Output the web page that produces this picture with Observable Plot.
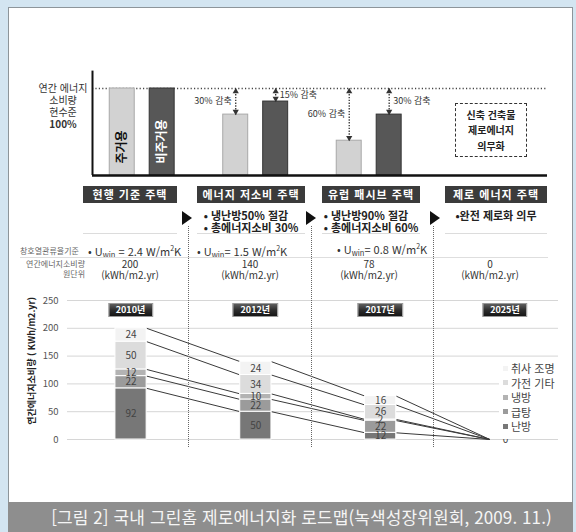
<!DOCTYPE html>
<html lang="ko"><head><meta charset="utf-8">
<script src="https://cdn.jsdelivr.net/npm/d3@7"></script>
<script src="https://cdn.jsdelivr.net/npm/@observablehq/plot@0.6"></script>
<style>
html,body{margin:0;padding:0;background:#d3e5f1;}
#root{position:relative;width:576px;height:532px;background:#d3e5f1;overflow:hidden;font-family:"Noto Sans CJK KR","Noto Sans",sans-serif;color:#333;}
#panel{position:absolute;left:8px;top:7px;width:565px;height:495px;background:#fff;border:1px solid #8d959a;border-bottom:none;box-sizing:border-box;}
#caption{position:absolute;left:8px;top:502px;width:565px;height:30px;background:#8e8e8e;color:#f5f5f5;font-size:17px;line-height:30px;text-align:center;padding-left:22px;box-sizing:border-box;letter-spacing:0.1px;white-space:nowrap;}
.a{position:absolute;white-space:nowrap;}
.hdr{background:#3b3b3b;color:#fff;font-weight:bold;font-size:11px;height:17px;line-height:17px;text-align:center;letter-spacing:1px;}
.bul{position:absolute;left:0;right:0;text-align:center;font-weight:bold;font-size:11px;line-height:12px;color:#222;}
.bul span{display:inline-block;text-align:left;}
.uw{font-size:11px;line-height:16px;color:#333;}
.uw sub{font-size:7.5px;vertical-align:-2px;line-height:0;}
.uw sup{font-size:7px;vertical-align:5px;line-height:0;}
.small{font-size:8px;line-height:10px;color:#666;}
.val{font-size:10px;line-height:11px;color:#333;text-align:center;transform:translateX(-50%);}
.tri{width:0;height:0;border-left:10px solid #111;border-top:7px solid transparent;border-bottom:7px solid transparent;}
.dot{width:0;border-left:1px dotted #666;}
.tag{background:linear-gradient(#5e5e5e,#2e2e2e 50%,#161616);border:1px solid #9a9a9a;color:#fff;font-weight:bold;font-size:9px;line-height:12px;padding:0 7px;transform:translate(-50%,-50%);}
#legend{background:#fff;padding:0 4px;}
#legend, #legend *{font-family:"Noto Sans CJK KR","Noto Sans",sans-serif !important;font-size:11px !important;color:#444;}
#legend [class$="-swatch"]{line-height:14.5px;margin:0 !important;padding:0 !important;}
#legend [class$="-swatch"] svg{margin-right:3px;}
</style></head>
<body>
<div id="root">
  <div id="panel"></div>
  <div id="caption">[그림 2] 국내 그린홈 제로에너지화 로드맵(녹색성장위원회, 2009. 11.)</div>
</div>
<script>
// ---------------- data ----------------
const years = ["2010년", "2012년", "2017년", "2025년"];
const uses = ["난방", "급탕", "냉방", "가전 기타", "취사 조명"];
const heating = [92, 50, 12, 0];
const hotWater = [22, 22, 22, 0];
const cooling = [12, 10, 2, 0];
const appliances = [50, 34, 26, 0];
const cookingLighting = [24, 24, 16, 0];
const seriesColors = ["#777777", "#9b9b9b", "#b3b3b3", "#dcdcdc", "#f3f3f3"];
const yTicks = [0, 50, 100, 150, 200, 250];
const yTitle = "연간에너지소비량 ( KWh/m2.yr)";

// concept diagram (percent of current level)
const residentialLevel = [100, 70, 40, null];
const nonResidentialLevel = [100, 85, 70, null];
const residentialCut = ["", "30% 감축", "60% 감축", ""];
const nonResidentialCut = ["", "15% 감축", "30% 감축", ""];
const residentialName = "주거용";
const nonResidentialName = "비주거용";
const levelLabel = ["연간 에너지", "소비량", "현수준", "100%"];
const noteLines = ["신축 건축물", "제로에너지", "의무화"];

// table rows
const houseTypes = ["현행 기준 주택", "에너지 저소비 주택", "유럽 패시브 주택", "제로 에너지 주택"];
const goals = [[], ["냉난방50% 절감", "총에너지소비 30%"], ["냉난방90% 절감", "총에너지소비 60%"], ["완전 제로화 의무"]];
const uwin = [2.4, 1.5, 0.8, null];
const unitConsumption = [200, 140, 78, 0];
const unitText = "(kWh/m2.yr)";
const rowLabel1 = "창호열관류율기준";
const rowLabel2 = ["연간에너지소비량", "원단위"];

const FONT = '"Noto Sans CJK KR","Noto Sans",sans-serif';
const SVGNS = "http://www.w3.org/2000/svg";
const root = document.getElementById("root");
function el(cls, css, html) {
  const d = document.createElement("div");
  d.className = cls; d.style.cssText = css; if (html != null) d.innerHTML = html;
  root.appendChild(d); return d;
}
function boxify(svg, label, {padX = 6, padY = 1.5, fill = "#222", stroke = "#8a8a8a"} = {}) {
  svg.querySelectorAll(`g[aria-label="${label}"] text`).forEach(t => {
    const b = t.getBBox();
    const r = document.createElementNS(SVGNS, "rect");
    r.setAttribute("x", b.x - padX); r.setAttribute("y", b.y - padY);
    r.setAttribute("width", b.width + 2 * padX); r.setAttribute("height", b.height + 2 * padY);
    r.setAttribute("fill", fill); r.setAttribute("stroke", stroke); r.setAttribute("stroke-width", 1);
    if (t.getAttribute("transform")) r.setAttribute("transform", t.getAttribute("transform"));
    t.parentNode.insertBefore(r, t);
  });
}

// ---------------- top concept chart ----------------
const OFF = 0.176, HW = 0.11;
const concept = [];
years.forEach((yr, i) => {
  if (residentialLevel[i] != null) concept.push({i, kind: residentialName, level: residentialLevel[i], cut: residentialCut[i], cx: i - OFF});
  if (nonResidentialLevel[i] != null) concept.push({i, kind: nonResidentialName, level: nonResidentialLevel[i], cut: nonResidentialCut[i], cx: i + OFF});
});
const resBars = concept.filter(d => d.kind === residentialName);
const nonBars = concept.filter(d => d.kind === nonResidentialName);
const topX = [-0.438, 3.571];
const topPlot = Plot.plot({
  width: 576, height: 125,
  marginLeft: 92, marginRight: 29, marginTop: 33, marginBottom: 5,
  x: {domain: topX, axis: null},
  y: {domain: [0, 100], axis: null},
  style: {fontFamily: FONT, background: "transparent", overflow: "visible"},
  marks: [
    Plot.ruleY([100], {stroke: "#444", strokeWidth: 1.6, strokeDasharray: "1.2,2.2"}),
    Plot.rect(resBars, {x1: d => d.cx - HW, x2: d => d.cx + HW, y1: 0, y2: "level", fill: "#d2d2d2", stroke: "#a8a8a8", strokeWidth: 1}),
    Plot.rect(nonBars, {x1: d => d.cx - HW, x2: d => d.cx + HW, y1: 0, y2: "level", fill: "#575757", stroke: "#333", strokeWidth: 1}),
    Plot.link(concept.filter(d => d.cut), {x1: "cx", x2: "cx", y1: 100, y2: d => d.level, stroke: "#333", strokeWidth: 1.3, strokeDasharray: "1.4,1.4"}),
    Plot.dot(concept.filter(d => d.cut), {x: "cx", y: 100, symbol: "triangle", r: 2.3, fill: "#333", dy: 3}),
    Plot.dot(concept.filter(d => d.cut), {x: "cx", y: "level", symbol: "triangle", rotate: 180, r: 2.3, fill: "#333", dy: -3}),
    Plot.text(resBars.filter(d => d.cut), {x: "cx", y: d => (100 + d.level) / 2, text: "cut", textAnchor: "end", dx: -4, fontSize: 9, fill: "#333"}),
    Plot.text(nonBars.filter(d => d.cut), {x: "cx", y: d => (100 + d.level) / 2, text: "cut", textAnchor: "start", dx: 4, fontSize: 9, fill: "#333"}),
    Plot.text(resBars.filter(d => d.i === 0), {x: "cx", y: 0, text: "kind", rotate: -90, textAnchor: "start", dy: -12, fontSize: 12, fontWeight: "bold", fill: "#111"}),
    Plot.text(nonBars.filter(d => d.i === 0), {x: "cx", y: 0, text: "kind", rotate: -90, textAnchor: "start", dy: -12, fontSize: 12, fontWeight: "bold", fill: "#fff"}),
    Plot.ruleY([0], {stroke: "#111", strokeWidth: 2.5}),
    Plot.ruleX([topX[0]], {y1: 0, y2: 120, stroke: "#111", strokeWidth: 2}),
    Plot.text(years, {x: (d, i) => i, frameAnchor: "top", dy: -16, text: d => d, fill: "#fff", fontSize: 9, fontWeight: "bold", ariaLabel: "top-tags"})
  ]
});
const topWrap = el("a", "left:0;top:55px;");
topWrap.appendChild(topPlot);
boxify(topPlot, "top-tags", {padX: 7, padY: 1.5, fill: "#151515", stroke: "#8f8f8f"});

// level label and note box
el("a", "left:30px;top:82px;width:66px;text-align:center;font-size:10px;line-height:12px;color:#333;",
  levelLabel.map((t, k) => k === levelLabel.length - 1 ? `<b>${t}</b>` : t).join("<br>"));
el("a", "left:455px;top:103px;width:72px;height:54px;border:1.5px dashed #333;box-sizing:border-box;display:flex;align-items:center;justify-content:center;text-align:center;font-weight:bold;font-size:10px;line-height:15.5px;color:#222;",
  noteLines.join("<br>"));

// ---------------- middle table ----------------
const colCenters = [130, 251, 371, 496];
const colWidths = [94, 108, 98, 102];
houseTypes.forEach((h, i) => {
  const c = el("a", `left:${colCenters[i] - colWidths[i] / 2}px;top:186px;width:${colWidths[i]}px;height:47px;border-bottom:1px solid #dcdcdc;`);
  c.innerHTML = `<div class="hdr">${h}</div>` +
    (goals[i].length ? `<div class="bul" style="top:23px"><span>${goals[i].map(g => (i === 3 ? "•" : "• ") + g).join("<br>")}</span></div>` : "");
});
const uwLeft = [88, 197, 337];
const uwTop = [243, 243, 241];
uwin.forEach((u, i) => {
  if (u == null) return;
  const eq = i === 0 ? " = " : "= ";
  el("a uw", `left:${uwLeft[i]}px;top:${uwTop[i]}px;`, `• U<sub>win</sub>${eq}${u.toFixed(1)} W/m<sup>2</sup>K`);
});
el("a small", "left:20px;top:246px;", rowLabel1);
el("a", "left:20px;top:257px;width:528px;height:1px;background:#dedede;");
el("a small", "left:20px;top:259px;width:65px;text-align:right;", rowLabel2.join("<br>"));
const valCenters = [130, 250, 369, 490];
unitConsumption.forEach((v, i) => el("a val", `left:${valCenters[i]}px;top:258px;`, `${v}<br>${unitText}`));
[187, 311, 435].forEach(x => el("a tri", `left:${x - 5}px;top:211px;`));

// ---------------- bottom stacked chart ----------------
const series = [heating, hotWater, cooling, appliances, cookingLighting];
const rows = [];
years.forEach((yr, i) => {
  let acc = 0;
  uses.forEach((u, k) => {
    const v = series[k][i];
    rows.push({i, year: yr, use: u, value: v, y1: acc, y2: acc + v});
    acc += v;
  });
});
const BH = 0.125;
const tops = years.map((_, i) => { let acc = 0; return series.map(s => (acc += s[i])); });
const connectors = [];
for (let i = 0; i < years.length - 1; i++)
  for (let k = 0; k < uses.length; k++)
    connectors.push({x1: i + BH, y1: tops[i][k], x2: i + 1 - BH, y2: tops[i + 1][k]});

const bottomPlot = Plot.plot({
  width: 576, height: 165,
  marginLeft: 67, marginRight: 18, marginTop: 10, marginBottom: 16,
  x: {domain: [-0.509, 3.425], axis: null},
  y: {domain: [0, 250], ticks: yTicks, tickSize: 0, tickPadding: 9, label: null},
  color: {domain: uses, range: seriesColors},
  style: {fontFamily: FONT, fontSize: "9.5px", color: "#555", background: "transparent", overflow: "visible"},
  marks: [
    Plot.ruleY(yTicks, {stroke: "#d6d6d6"}),
    Plot.link(connectors, {x1: "x1", y1: "y1", x2: "x2", y2: "y2", stroke: "#3a3a3a", strokeWidth: 1}),
    Plot.rect(rows.filter(d => d.value > 0), {x1: d => d.i - BH, x2: d => d.i + BH, y1: "y1", y2: "y2", fill: "use", stroke: "#fff", strokeWidth: 1}),
    Plot.text(rows.filter(d => d.value > 0 || d.use === uses[0]), {x: "i", y: d => (d.y1 + d.y2) / 2, text: d => String(d.value), fontSize: 10, fill: "#444"}),
    Plot.text([yTitle], {frameAnchor: "left", text: d => d, rotate: -90, textAnchor: "middle", dx: -35, dy: -9, fontWeight: "bold", fontSize: 9, fill: "#222"})
  ]
});
const botWrap = el("a", "left:0;top:290px;");
botWrap.appendChild(bottomPlot);

// year tags positioned with the bottom chart's own x scale
const xs = bottomPlot.scale("x");
years.forEach((yr, i) => el("a tag", `left:${xs.apply(i)}px;top:310px;`, yr));

// legend (top-to-bottom: 취사 조명 ... 난방)
const legend = Plot.legend({
  color: {type: "ordinal", domain: uses.slice().reverse(), range: seriesColors.slice().reverse()},
  legend: "swatches", columns: 1, swatchSize: 5
});
const legWrap = el("a", "left:499px;top:361px;");
legWrap.id = "legend";
legWrap.appendChild(legend);

// dotted separators on top
[188, 311, 433].forEach(x => el("a dot", `left:${x}px;top:226px;height:221px;`));
</script>
</body></html>
